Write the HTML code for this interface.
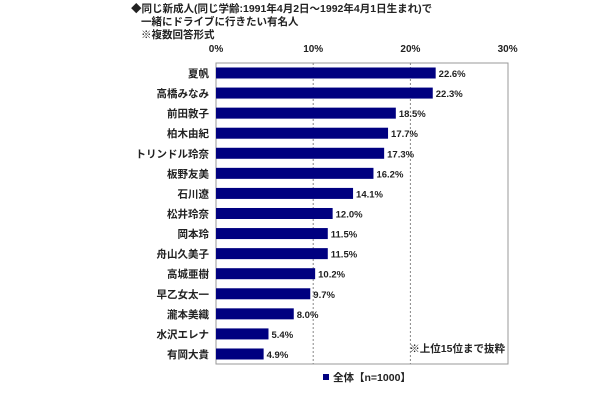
<!DOCTYPE html>
<html><head><meta charset="utf-8"><style>
body{margin:0;background:#fff;width:610px;height:400px;overflow:hidden;font-family:"Liberation Sans","Noto Sans CJK JP",sans-serif;}
svg text{font-family:"Liberation Sans","Noto Sans CJK JP",sans-serif;font-weight:bold;}
</style></head><body>
<svg id="c" width="610" height="400">
<g font-size="10.5" fill="#222">
<text x="131" y="12" font-weight="bold">◆同じ新成人(同じ学齢:1991年4月2日～1992年4月1日生まれ)で</text>
<text x="141" y="25" font-weight="bold">一緒にドライブに行きたい有名人</text>
<text x="141" y="38" font-weight="bold">※複数回答形式</text>
</g>
<rect x="216" y="63" width="292" height="301" fill="none" stroke="#999"/>
<g id="grid"></g><g id="bars"></g>
<text x="505" y="352" font-size="10.5" text-anchor="end" fill="#222">※上位15位まで抜粋</text>
<rect x="323" y="374" width="6" height="6" fill="#000080"/>
<text x="333" y="381" font-size="10.5" fill="#222">全体【n=1000】</text>
</svg>
<script>
const categories=["夏帆","高橋みなみ","前田敦子","柏木由紀","トリンドル玲奈","板野友美","石川遼","松井玲奈","岡本玲","舟山久美子","高城亜樹","早乙女太一","瀧本美織","水沢エレナ","有岡大貴"];
const values=[22.6,22.3,18.5,17.7,17.3,16.2,14.1,12.0,11.5,11.5,10.2,9.7,8.0,5.4,4.9];
const ticks=[0,10,20,30];
const x=v=>216+v*9.72, y0=63, step=20.07;
const ns="http://www.w3.org/2000/svg";
const g=document.getElementById('grid'), b=document.getElementById('bars');
function mk(t,a,p){const e=document.createElementNS(ns,t);for(const k in a)e.setAttribute(k,a[k]);p.appendChild(e);return e;}
ticks.forEach(t=>{
 const l=mk('text',{x:x(t),y:52,'font-size':10,'text-anchor':'middle',fill:'#222'},g);l.textContent=t+'%';
 
 
 if(t>0&&t<30){const ln=mk('line',{x1:x(t),x2:x(t),y1:63,y2:364,stroke:'#888','stroke-dasharray':'2,2'},g);
 
 }
});
categories.forEach((c,i)=>{
 const cy=y0+10+i*step;
 const r=mk('rect',{x:216,y:cy-5.5,width:x(values[i])-216,height:11,fill:'#000080'},b);
 
 
 const t=mk('text',{x:209,y:cy+4,'font-size':10.5,'text-anchor':'end',fill:'#222'},b);t.textContent=c;
 
 
 const v=mk('text',{x:x(values[i])+3,y:cy+4,'font-size':9.5,fill:'#222'},b);v.textContent=values[i].toFixed(1)+'%';
 
 
});
</script>
</body></html>
